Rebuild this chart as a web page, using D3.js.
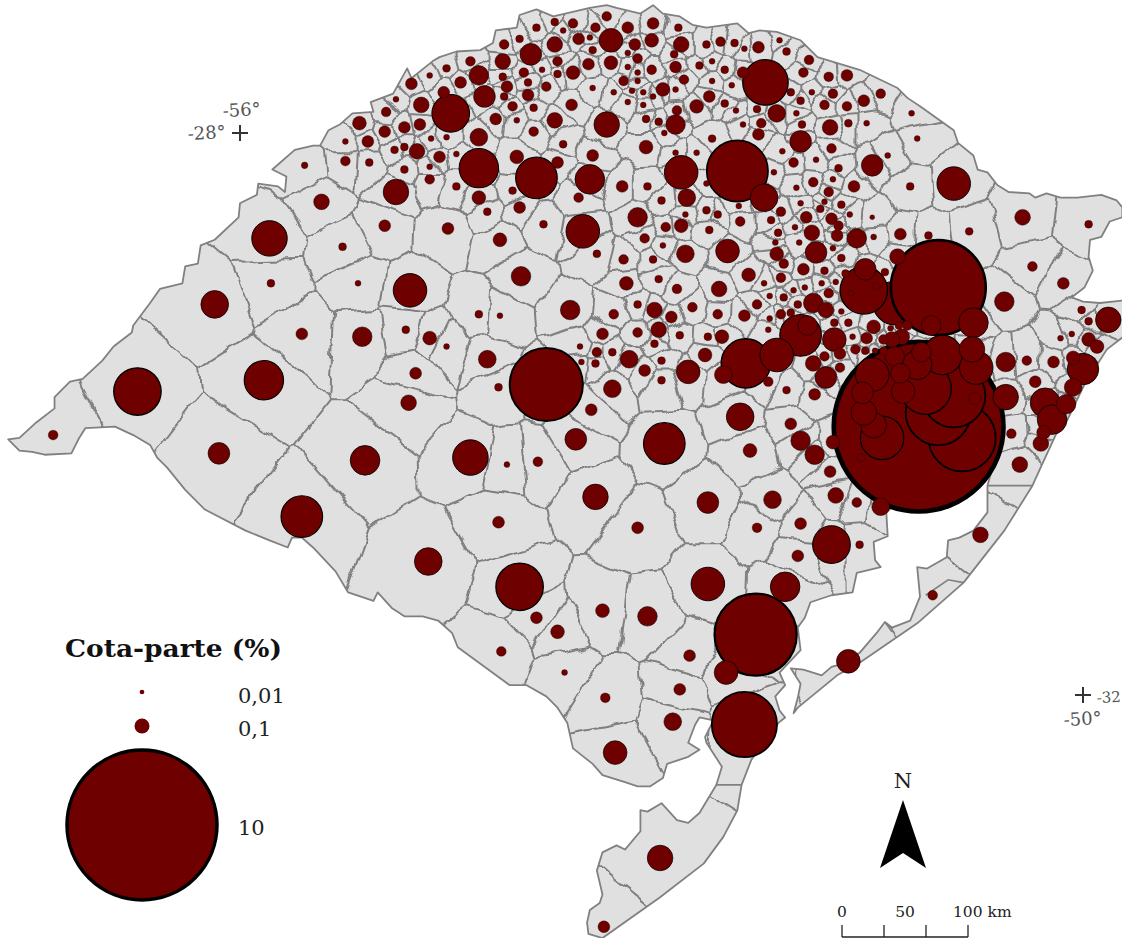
<!DOCTYPE html>
<html lang="pt">
<head>
<meta charset="utf-8">
<title>Cota-parte (%)</title>
<script src="https://cdn.jsdelivr.net/npm/d3@7/dist/d3.min.js"></script>
<style>
html,body{margin:0;padding:0;background:#fff;overflow:hidden}
svg{display:block}
text{font-family:"DejaVu Serif","Liberation Serif",serif}
</style>
</head>
<body>
<svg id="map" width="1122" height="938" viewBox="0 0 1122 938"></svg>
<script>
// [longitude, latitude, cota-parte %]
const muniNoroeste = [
[-54.50,-27.86,.63],[-54.30,-28.25,.69],[-53.89,-28.32,.77],[-53.51,-28.33,.39],[-53.39,-27.94,.29],[-53.36,-27.34,.25],[-53.93,-27.44,.21],[-54.30,-27.59,.17],[-54.26,-27.74,.21],[-54.13,-27.49,.11],
[-53.76,-27.37,.11],[-53.36,-27.50,.085],[-53.52,-27.51,.063],[-53.63,-27.57,.085],[-53.74,-27.58,.028],[-53.74,-27.49,.043],[-53.85,-27.55,.016],[-53.98,-27.57,.043],[-53.95,-27.64,.028],[-54.13,-27.60,.028],
[-54.10,-27.67,.063],[-54.12,-27.74,.028],[-53.95,-27.73,.063],[-53.82,-27.67,.043],[-54.06,-27.81,.043],[-53.91,-27.82,.028],[-54.03,-27.91,.016],[-54.18,-27.90,.063],[-54.30,-28.03,.14],[-53.76,-27.91,.11],
[-53.64,-27.80,.063],[-53.91,-27.99,.043],[-53.70,-28.08,.028],[-54.03,-28.17,.085],[-53.74,-28.21,.063],[-53.49,-28.16,.063],[-53.28,-28.38,.063],[-53.59,-28.46,.043],[-54.06,-28.41,.028],[-54.30,-28.46,.085],
[-54.46,-28.38,.028],[-54.65,-28.33,.043],[-54.89,-28.42,.29],[-54.83,-28.26,.028],[-54.65,-28.24,.016],[-54.58,-28.17,.063],[-54.46,-28.15,.016],[-54.74,-28.13,.11],[-54.90,-28.12,.028],[-54.83,-28.10,.028],
[-55.08,-28.21,.028],[-55.25,-28.20,.043],[-55.25,-28.06,.016],[-55.09,-28.06,.063],[-54.97,-27.99,.063],[-54.83,-27.96,.063],[-54.72,-27.94,.063],[-54.64,-28.04,.016],[-54.53,-28.03,.016],[-55.15,-27.93,.085],
[-54.96,-27.85,.043],[-54.89,-27.76,.016],[-54.71,-27.80,.11],[-54.78,-27.65,.063],[-54.65,-27.59,.016],[-54.55,-27.71,.063],[-54.43,-27.64,.063],[-54.53,-27.54,.028],[-54.36,-27.49,.043],[-54.12,-27.37,.043],
[-54.01,-27.33,.028],[-53.89,-27.25,.028],[-53.76,-27.21,.028],[-53.70,-27.27,.016],[-53.63,-27.22,.043],[-53.47,-27.25,.043],[-53.39,-27.17,.043],[-53.24,-27.25,.063],[-53.59,-27.33,.063],[-53.51,-27.32,.016],
[-53.49,-27.41,.028],[-53.19,-27.37,.063],[-53.24,-27.43,.016],[-53.17,-27.47,.043],[-53.24,-27.53,.016],[-53.27,-27.63,.043],[-53.49,-27.68,.016],[-53.34,-27.71,.016],[-53.21,-27.70,.016],[-53.24,-27.78,.016],
[-53.17,-27.63,.016],[-53.17,-27.57,.016],[-54.97,-28.66,.063],[-54.52,-28.68,.063],[-54.24,-28.56,.028],[-54.01,-28.53,.063],[-53.84,-28.65,.028],[-53.56,-28.70,.5],[-54.15,-28.76,.085],[-53.17,-28.60,.17]
];
const muniNorte = [
[-52.26,-27.64,.92],[-52.46,-28.27,1.67],[-52.27,-28.46,.34],[-52.86,-28.28,.5],[-52.90,-27.94,.17],[-52.82,-28.46,.14],[-51.50,-28.23,.21],[-52.01,-28.06,.21],[-51.80,-27.96,.11],[-52.18,-27.86,.14],
[-52.29,-27.93,.043],[-52.31,-28.01,.063],[-52.32,-27.83,.028],[-52.42,-27.94,.016],[-52.47,-27.84,.016],[-52.55,-27.79,.028],[-52.66,-27.74,.063],[-52.75,-27.81,.085],[-52.89,-27.84,.043],[-52.99,-27.69,.085],
[-52.84,-27.62,.043],[-52.90,-27.53,.063],[-52.91,-27.44,.028],[-52.86,-27.37,.11],[-52.88,-27.25,.028],[-53.06,-27.22,.063],[-53.07,-27.34,.085],[-53.13,-27.71,.016],[-53.07,-27.55,.043],[-53.06,-27.74,.016],
[-52.90,-27.69,.016],[-53.13,-27.80,.016],[-53.11,-27.90,.028],[-53.02,-27.92,.028],[-52.98,-28.00,.016],[-53.11,-28.10,.085],[-52.64,-28.04,.028],[-52.90,-28.14,.016],[-52.75,-28.14,.016],[-52.14,-28.13,.016],
[-52.06,-28.21,.043],[-51.90,-28.19,.016],[-51.79,-28.11,.043],[-51.74,-28.25,.028],[-51.78,-28.33,.016],[-51.92,-28.35,.043],[-52.04,-28.39,.016],[-52.20,-28.28,.016],[-51.63,-28.38,.063],[-51.81,-28.42,.043],
[-51.23,-28.38,.028],[-51.39,-28.16,.016],[-51.22,-27.86,.016],[-51.18,-28.04,.016],[-51.67,-27.93,.028],[-51.54,-27.93,.016],[-51.68,-27.81,.043],[-51.84,-27.80,.043],[-52.00,-27.94,.028],[-52.04,-27.86,.016],
[-52.01,-27.77,.028],[-51.93,-27.71,.016],[-51.78,-27.72,.043],[-51.56,-27.77,.063],[-51.44,-27.72,.043],[-51.68,-27.59,.063],[-51.81,-27.60,.043],[-51.99,-27.57,.043],[-51.95,-27.48,.043],[-52.11,-27.42,.028],
[-52.16,-27.34,.016],[-52.31,-27.39,.063],[-52.41,-27.40,.016],[-52.48,-27.36,.028],[-52.58,-27.35,.043],[-52.68,-27.37,.028],[-52.64,-27.49,.016],[-52.73,-27.52,.028],[-52.55,-27.55,.028],[-52.42,-27.57,.063],
[-52.64,-27.63,.016],[-52.50,-27.66,.016],[-52.08,-27.71,.028],[-53.10,-28.38,.028],[-53.00,-28.48,.028],[-52.68,-28.55,.028],[-52.83,-28.58,.016],[-52.60,-28.58,.028],[-52.45,-28.52,.016],[-52.68,-28.36,.016],
[-52.44,-28.63,.043],[-52.22,-28.62,.028],[-52.15,-28.56,.043],[-52.01,-28.50,.016],[-51.84,-28.49,.016],[-51.72,-28.51,.028],[-51.87,-28.54,.028],[-51.97,-28.60,.063],[-51.79,-28.61,.063],[-51.74,-28.66,.043],
[-51.66,-28.58,.016],[-51.50,-28.60,.011],[-52.05,-28.67,.016],[-51.93,-28.71,.11],[-51.75,-28.73,.063],[-51.61,-28.75,.17],[-51.30,-28.72,.063],[-51.49,-28.74,.016],[-52.17,-28.71,.028],[-52.66,-28.69,.028],
[-52.86,-28.66,.085],[-52.97,-28.67,.043],[-53.12,-28.75,.043]
];
const muniCentro = [
[-53.82,-29.79,2.38],[-52.81,-29.70,.25],[-52.40,-29.64,1.08],[-52.18,-29.58,.5],[-52.01,-29.44,.77],[-51.96,-29.37,.17],[-52.56,-29.72,.14],[-52.44,-30.02,.34],[-52.98,-30.21,.77],[-53.61,-30.18,.21],
[-53.50,-29.97,.063],[-53.35,-29.82,.14],[-53.12,-29.69,.063],[-53.00,-29.76,.028],[-53.00,-29.62,.028],[-53.23,-29.61,.14],[-53.35,-29.56,.028],[-53.47,-29.64,.028],[-53.46,-29.56,.043],[-53.57,-29.63,.016],
[-53.58,-29.52,.016],[-53.42,-29.43,.063],[-53.17,-29.42,.043],[-53.02,-29.40,.11],[-53.05,-29.50,.028],[-52.87,-29.44,.028],[-52.67,-29.45,.028],[-52.57,-29.45,.085],[-52.69,-29.58,.085],[-53.05,-29.26,.11],
[-53.17,-29.22,.028],[-53.34,-29.29,.043],[-53.65,-29.26,.17],[-53.25,-29.07,.085],[-53.02,-29.04,.028],[-52.89,-29.11,.043],[-52.78,-29.24,.043],[-52.93,-29.31,.063],[-52.60,-29.29,.043],[-52.41,-29.30,.063],
[-52.59,-29.11,.11],[-52.83,-28.86,.14],[-52.53,-28.84,.25],[-53.06,-28.90,.028],[-53.27,-28.90,.043],[-53.46,-28.86,.028],[-52.99,-28.80,.016],[-52.38,-29.01,.085],[-52.27,-29.07,.016],[-52.15,-29.03,.043],
[-52.23,-29.16,.016],[-52.13,-29.17,.028],[-52.06,-29.12,.016],[-51.98,-29.10,.016],[-51.99,-28.97,.063],[-52.13,-28.93,.043],[-52.18,-28.86,.085],[-51.90,-28.85,.21],[-52.19,-28.78,.016],[-52.02,-28.78,.016],
[-51.78,-28.82,.016],[-51.72,-28.89,.028],[-51.84,-28.98,.028],[-51.69,-29.00,.028],[-51.86,-29.07,.016],[-51.76,-29.06,.016],[-51.81,-29.14,.043],[-51.92,-29.21,.17],[-51.83,-29.26,.11],[-52.03,-29.22,.028],
[-52.08,-29.28,.028],[-52.15,-29.29,.043],[-52.23,-29.32,.016],[-52.24,-29.40,.016],[-52.32,-29.22,.043],[-51.72,-29.27,.016],[-51.77,-29.35,.028],[-51.67,-29.35,.028],[-51.64,-29.45,.016],[-51.62,-29.54,.043],
[-51.73,-29.57,.063],[-51.77,-29.47,.25],[-51.84,-29.59,.043],[-51.92,-29.64,.11],[-51.73,-29.67,.043],[-51.83,-29.74,.21],[-51.91,-29.86,.063],[-52.08,-30.07,.063],[-52.01,-30.19,.17],[-51.91,-30.29,.17],
[-52.11,-29.83,.028],[-52.24,-29.77,.043],[-52.37,-30.26,.085]
];
const muniLeste = [
[-51.17,-30.09,12.8],[-51.03,-29.10,4],[-51.56,-29.12,1],[-51.55,-28.97,.21],[-51.32,-28.88,.11],[-50.78,-29.35,.39],[-51.08,-29.37,.17],[-50.56,-29.20,.17],[-49.82,-29.33,.29],
[-50.01,-29.26,.028],[-49.96,-29.34,.028],[-50.16,-29.46,.016],[-50.08,-29.43,.016],[-49.96,-29.47,.085],[-49.90,-29.52,.085],[-50.00,-29.68,.44],[-50.07,-29.60,.085],[-50.07,-29.81,.14],[-50.12,-29.93,.17],
[-50.27,-29.92,.39],[-50.22,-30.04,.39],[-50.28,-30.13,.085],[-50.30,-30.21,.11],[-50.21,-29.63,.063],[-50.34,-29.77,.063],[-50.40,-29.62,.043],[-50.55,-29.63,.17],[-50.55,-29.88,.29],[-50.51,-30.14,.043],
[-50.45,-30.36,.11],[-50.76,-29.67,.5],[-51.18,-29.65,.39],[-51.50,-29.72,.5],[-51.34,-29.59,.17],[-51.29,-29.45,.11],[-51.00,-29.58,.69],[-50.79,-29.54,.29],[-51.12,-29.82,1.17],[-51.03,-29.99,1.89],
[-50.92,-29.87,1.78],[-50.86,-30.17,2],[-51.43,-30.17,.84],[-51.49,-30.08,.29],[-51.56,-29.99,.29],[-51.57,-29.85,.21],[-51.28,-29.84,.25],[-50.77,-29.89,.063],[-51.58,-30.31,.028],[-51.78,-30.20,.085],
[-51.44,-30.66,.14],[-51.61,-30.63,.043],[-51.76,-30.58,.11],[-51.80,-30.41,.063],[-50.36,-28.95,.043],[-50.14,-29.07,.063],[-50.81,-28.70,.028],[-51.10,-28.73,.028],[-51.41,-28.99,.028],[-51.54,-29.46,.063],
[-51.55,-29.55,.028],[-51.48,-29.55,.016],[-51.42,-29.47,.043],[-51.36,-29.47,.11],[-51.42,-29.55,.028],[-51.49,-29.38,.085],[-51.37,-29.39,.016],[-51.31,-29.37,.028],[-51.25,-29.37,.043],[-51.65,-29.14,.016],
[-51.47,-29.09,.028],[-51.15,-29.56,.17],[-51.30,-29.71,.17],[-50.92,-28.36,.5],[-50.43,-28.60,.11],[-49.96,-28.65,.028]
];
// Municipality that the picture draws beneath its larger neighbour
const muniSobAnterior = [[-51.34,-29.21,.84]];
const muniSul = [
[-55.79,-28.75,.56],[-55.42,-28.49,.11],[-55.54,-28.23,.02],[-55.27,-28.81,.028],[-54.79,-29.12,.5],[-56.18,-29.22,.34],[-55.78,-29.07,.028],[-55.16,-29.07,.016],[-55.56,-29.43,.063],[-55.13,-29.45,.17],
[-54.82,-29.40,.028],[-54.65,-29.46,.085],[-55.83,-29.76,.69],[-56.73,-29.84,1],[-57.33,-30.15,.043],[-56.15,-30.28,.21],[-55.11,-30.33,.39],[-54.75,-29.71,.063],[-54.80,-29.92,.11],[-54.53,-29.52,.016],
[-54.16,-29.81,.028],[-54.24,-29.61,.14],[-54.30,-29.29,.028],[-54.15,-29.30,.016],[-54.00,-29.02,.17],[-54.36,-30.31,.56],[-54.10,-30.36,.016],[-53.88,-30.34,.043],[-53.47,-30.59,.29],[-54.16,-30.77,.063],
[-53.17,-30.81,.063],[-52.67,-30.63,.21],[-52.21,-30.61,.14],[-52.32,-30.81,.043],[-52.01,-30.78,.063],[-52.03,-31.01,.063],[-51.79,-30.93,.63],[-51.59,-30.93,.028],[-55.56,-30.73,.77],[-54.66,-31.05,.34],
[-54.01,-31.23,1],[-52.67,-31.21,.5],[-52.12,-31.23,.39],[-52.33,-31.57,3],[-53.42,-31.40,.085],[-53.10,-31.44,.17],[-53.89,-31.45,.063],[-53.74,-31.55,.085],[-54.14,-31.69,.043],[-52.80,-31.72,.063],
[-52.54,-31.84,.25],[-51.67,-31.76,.25],[-53.69,-31.84,.016],[-53.40,-32.02,.043],[-52.87,-31.96,.063],[-52.92,-32.19,.14],[-52.41,-32.21,1.89],[-53.33,-32.41,.25],[-53.01,-33.16,.29],[-53.41,-33.65,.063],
[-50.73,-30.86,.11],[-51.07,-31.29,.043]
];
// State outline, [longitude, latitude]
const contorno = [
[-57.65,-30.18],[-57.57,-30.17],[-57.45,-30.06],[-57.32,-29.96],[-57.32,-29.88],[-57.21,-29.77],[-57.12,-29.75],[-56.98,-29.62],[-56.90,-29.52],[-56.77,-29.42],[-56.76,-29.37],[-56.64,-29.21],[-56.57,-29.11],[-56.41,-29.07],[-56.39,-28.95],[-56.30,-28.93],[-56.28,-28.80],[-56.18,-28.76],[-56.01,-28.60],[-56.00,-28.50],[-55.88,-28.44],[-55.87,-28.36],[-55.73,-28.38],[-55.68,-28.42],[-55.67,-28.31],[-55.77,-28.26],[-55.61,-28.12],[-55.48,-28.09],[-55.43,-28.09],[-55.37,-27.98],[-55.29,-27.94],[-55.20,-27.86],[-55.05,-27.85],[-55.07,-27.78],[-54.91,-27.72],[-54.81,-27.54],[-54.78,-27.61],[-54.63,-27.49],[-54.58,-27.46],[-54.46,-27.42],[-54.29,-27.41],[-54.20,-27.36],[-54.18,-27.27],[-54.03,-27.25],[-54.01,-27.16],[-53.89,-27.12],[-53.77,-27.17],[-53.51,-27.11],[-53.39,-27.09],[-53.32,-27.11],[-53.15,-27.15],[-53.06,-27.09],[-52.99,-27.15],[-52.87,-27.17],[-52.78,-27.23],[-52.68,-27.25],[-52.46,-27.22],[-52.38,-27.29],[-52.30,-27.27],[-52.18,-27.28],[-52.01,-27.34],[-51.89,-27.46],[-51.59,-27.55],[-51.32,-27.68],[-51.25,-27.75],[-51.16,-27.81],[-50.92,-27.98],[-50.89,-28.07],[-50.78,-28.16],[-50.75,-28.26],[-50.68,-28.28],[-50.61,-28.37],[-50.53,-28.42],[-50.38,-28.43],[-50.34,-28.46],[-50.26,-28.43],[-50.16,-28.46],[-50.04,-28.46],[-49.87,-28.44],[-49.76,-28.48],[-49.72,-28.53],[-49.72,-28.60],[-49.81,-28.63],[-49.87,-28.74],[-49.95,-28.76],[-49.96,-28.88],[-49.93,-28.98],[-49.99,-29.10],[-50.08,-29.17],[-50.00,-29.20],[-49.88,-29.21],[-49.70,-29.19],[-49.70,-29.44],[-49.83,-29.54],[-49.90,-29.65],[-49.99,-29.79],[-50.13,-30.08],[-50.19,-30.14],[-50.31,-30.40],[-50.36,-30.51],[-50.56,-30.83],[-50.85,-31.20],[-51.18,-31.49],[-51.59,-31.77],[-51.75,-31.86],[-52.03,-32.09],[-52.06,-32.13],[-52.03,-32.02],[-52.01,-31.92],[-52.08,-31.81],[-51.99,-31.82],[-51.86,-31.86],[-51.79,-31.80],[-51.75,-31.79],[-51.59,-31.70],[-51.47,-31.56],[-51.41,-31.48],[-51.36,-31.52],[-51.23,-31.47],[-51.16,-31.30],[-51.18,-31.09],[-51.11,-31.10],[-50.97,-31.02],[-50.96,-30.90],[-50.88,-30.88],[-50.78,-30.83],[-50.68,-30.70],[-50.68,-30.51],[-50.65,-30.40],[-50.87,-30.40],[-51.30,-30.61],[-51.40,-30.70],[-51.39,-30.87],[-51.49,-30.91],[-51.48,-31.04],[-51.44,-31.09],[-51.61,-31.13],[-51.64,-31.27],[-51.79,-31.29],[-51.94,-31.34],[-51.98,-31.45],[-52.03,-31.52],[-52.01,-31.68],[-52.16,-31.84],[-52.12,-31.93],[-52.19,-32.01],[-52.16,-32.11],[-52.12,-32.16],[-52.17,-32.20],[-52.36,-32.46],[-52.43,-32.64],[-52.46,-32.82],[-52.56,-33.01],[-52.70,-33.20],[-53.01,-33.44],[-53.42,-33.73],[-53.52,-33.70],[-53.53,-33.62],[-53.51,-33.53],[-53.44,-33.48],[-53.42,-33.42],[-53.46,-33.25],[-53.42,-33.12],[-53.32,-33.07],[-53.26,-33.10],[-53.15,-32.97],[-53.15,-32.82],[-53.10,-32.83],[-53.00,-32.77],[-52.89,-32.89],[-52.81,-32.91],[-52.73,-32.84],[-52.61,-32.64],[-52.57,-32.51],[-52.68,-32.34],[-52.69,-32.30],[-52.63,-32.18],[-52.73,-32.16],[-52.76,-32.21],[-52.81,-32.34],[-52.73,-32.39],[-52.81,-32.44],[-52.96,-32.49],[-52.99,-32.59],[-53.08,-32.65],[-53.17,-32.65],[-53.26,-32.62],[-53.42,-32.57],[-53.49,-32.49],[-53.63,-32.38],[-53.67,-32.20],[-53.74,-32.09],[-53.82,-32.01],[-53.96,-31.93],[-54.08,-31.93],[-54.45,-31.66],[-54.49,-31.56],[-54.59,-31.47],[-54.70,-31.44],[-54.83,-31.44],[-54.92,-31.38],[-55.02,-31.27],[-55.05,-31.33],[-55.23,-31.27],[-55.32,-31.12],[-55.48,-30.95],[-55.56,-30.88],[-55.63,-30.88],[-55.66,-30.95],[-55.79,-30.90],[-55.96,-30.83],[-56.25,-30.68],[-56.39,-30.54],[-56.52,-30.38],[-56.59,-30.31],[-56.64,-30.22],[-56.76,-30.15],[-56.89,-30.09],[-57.10,-30.10],[-57.15,-30.18],[-57.20,-30.28],[-57.39,-30.29],[-57.48,-30.27],[-57.57,-30.26]
];
// Straight limits that cross the coastal strips
const limitesCosteiros = [
  [[-50.68,-30.51],[-50.36,-30.51]],
  [[-52.61,-32.64],[-52.43,-32.64]],
  [[-51.12,-31.29],[-50.96,-31.18],[-50.85,-31.20]],
  [[-51.41,-31.48],[-51.36,-31.55]]
];
const legendaValores = [0.01, 0.1, 10];
const legendaRotulos = ["0,01", "0,1", "10"];
const escalaKm = [0, 33.33, 66.67, 100];
const escalaRotulos = [[0, "0"], [50, "50"], [100, "100 km"]];
const graticula = [
  {lon:-56, lat:-28, lonTxt:"-56°", latTxt:"-28°"},
  {lon:-50, lat:-32, lonTxt:"-50°", latTxt:"-32"}
];

const municipios = [...muniNoroeste, ...muniNorte, ...muniCentro, ...muniLeste, ...muniSul];
const todos = [...municipios, ...muniSobAnterior];

const x = d3.scaleLinear().domain([-56, -50]).range([240, 1083]);
const y = d3.scaleLinear().domain([-28, -32]).range([133, 695]);
const r = d3.scaleSqrt().domain([0, 10]).range([0, 75]);
const km = d3.scaleLinear().domain([0, 100]).range([842, 968]);

const COR = "#6f0000", TERRA = "#e0e0e0", LIMITE = "#808080";
const svg = d3.select("#map");
const defs = svg.append("defs");
const linha = d3.line().x(d => x(d[0])).y(d => y(d[1]));
const contornoD = linha(contorno) + "Z";

defs.append("clipPath").attr("id", "rs").append("path").attr("d", contornoD);
const wob = defs.append("filter").attr("id", "wob").attr("filterUnits", "userSpaceOnUse")
  .attr("x", 0).attr("y", 0).attr("width", 1122).attr("height", 938);
wob.append("feTurbulence").attr("type", "fractalNoise").attr("baseFrequency", 0.045).attr("numOctaves", 2).attr("seed", 4);
wob.append("feDisplacementMap").attr("in", "SourceGraphic").attr("scale", 12).attr("xChannelSelector", "R").attr("yChannelSelector", "G");
wob.append("feGaussianBlur").attr("stdDeviation", 0.35);

svg.append("path").attr("d", contornoD).attr("fill", TERRA);

// Municipal limits: one cell per municipality seat
const delaunay = d3.Delaunay.from(todos, d => x(d[0]), d => y(d[1]));
const voronoi = delaunay.voronoi([-20, -20, 1142, 958]);
const limites = svg.append("g").attr("clip-path", "url(#rs)").append("g").attr("filter", "url(#wob)");
limites.append("path").attr("d", voronoi.render())
  .attr("fill", "none").attr("stroke", LIMITE).attr("stroke-width", 2);

const costeiros = svg.append("g").attr("clip-path", "url(#rs)");
costeiros.selectAll("path").data(limitesCosteiros).join("path")
  .attr("d", d => linha(d)).attr("fill", "none").attr("stroke", LIMITE).attr("stroke-width", 1.6);

svg.append("path").attr("d", contornoD).attr("fill", "none").attr("stroke", LIMITE)
  .attr("stroke-width", 1.8).attr("stroke-linejoin", "round");

const espessura = v => Math.max(0.25, r(v) * 0.055);

const ordem = [...muniSobAnterior, ...municipios.slice().sort((a, b) => b[2] - a[2])];
svg.append("g").selectAll("circle")
  .data(ordem)
  .join("circle")
  .attr("cx", d => x(d[0])).attr("cy", d => y(d[1])).attr("r", d => r(d[2]))
  .attr("fill", COR).attr("stroke", "#000").attr("stroke-width", d => espessura(d[2]));

// Legend
const leg = svg.append("g");
leg.append("text").attr("x", 65).attr("y", 657).attr("font-size", 25).attr("font-weight", 700)
  .attr("textLength", 217).attr("lengthAdjust", "spacingAndGlyphs").attr("fill", "#111").text("Cota-parte (%)");
const legY = d3.scaleOrdinal().domain(legendaValores).range([692, 726, 825]);
const legT = d3.scaleOrdinal().domain(legendaValores).range([703, 736, 835]);
leg.selectAll("circle").data(legendaValores).join("circle")
  .attr("cx", 142).attr("cy", d => legY(d)).attr("r", d => r(d))
  .attr("fill", COR).attr("stroke", "#000").attr("stroke-width", d => d >= 10 ? 3.5 : 0);
leg.selectAll("text.v").data(legendaValores).join("text").attr("class", "v")
  .attr("x", 238).attr("y", d => legT(d)).attr("font-size", 21).attr("fill", "#222")
  .text((d, i) => legendaRotulos[i]);

// Graticule marks
graticula.forEach(g => {
  const gx = x(g.lon), gy = y(g.lat);
  svg.append("path").attr("d", `M${gx-8},${gy}H${gx+8}M${gx},${gy-8}V${gy+8}`)
    .attr("stroke", "#333").attr("stroke-width", 2).attr("fill", "none");
});
const gt = (tx, ty, s, fs) => svg.append("text").attr("transform", `translate(${tx},${ty}) rotate(-3)`)
  .attr("font-size", fs).attr("fill", "#555").text(s);
gt(223, 117, graticula[0].lonTxt, 18);
gt(188, 140, graticula[0].latTxt, 18);
gt(1097, 703, graticula[1].latTxt, 15);
gt(1064, 726, graticula[1].lonTxt, 18);

// North arrow
svg.append("text").attr("x", 903).attr("y", 788).attr("text-anchor", "middle")
  .attr("font-size", 21).attr("fill", "#222").text("N");
svg.append("path").attr("d", "M903,800L926,868L903,853L880,868Z").attr("fill", "#000");

// Scale bar
const barra = svg.append("g").attr("stroke", "#222").attr("stroke-width", 1.3).attr("fill", "none");
barra.append("line").attr("x1", km(0)).attr("x2", km(100)).attr("y1", 937).attr("y2", 937);
barra.selectAll("line.t").data(escalaKm).join("line").attr("class", "t")
  .attr("x1", d => km(d)).attr("x2", d => km(d)).attr("y1", 925).attr("y2", 937);
svg.selectAll("text.km").data(escalaRotulos).join("text").attr("class", "km")
  .attr("x", d => d[0] === 100 ? km(100) - 15 : km(d[0]))
  .attr("y", 917).attr("font-size", 15.5).attr("fill", "#222")
  .attr("text-anchor", d => d[0] === 100 ? "start" : "middle").text(d => d[1]);
</script>
</body>
</html>
